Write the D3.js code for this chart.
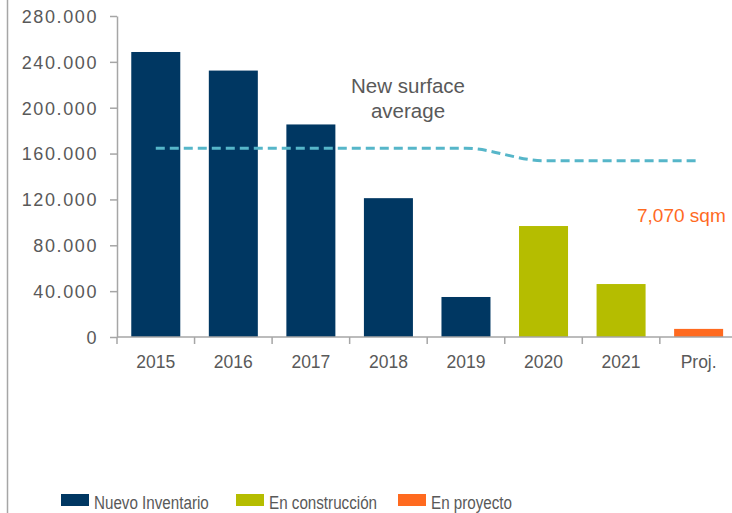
<!DOCTYPE html>
<html>
<head>
<meta charset="utf-8">
<script src="https://cdn.jsdelivr.net/npm/d3@7"></script>
<style>
  body { margin: 0; background: #fff; }
  svg { display: block; font-family: "Liberation Sans", Arial, sans-serif; }
</style>
</head>
<body>
<div id="chart"></div>
<script>
// data
var categories = ["2015", "2016", "2017", "2018", "2019", "2020", "2021", "Proj."];
var values = [248600, 232400, 185400, 121100, 34900, 96800, 46200, 7070];
var groups = ["Nuevo Inventario", "Nuevo Inventario", "Nuevo Inventario", "Nuevo Inventario",
              "Nuevo Inventario", "En construcción", "En construcción", "En proyecto"];
var average = [164600, 164600, 164600, 164600, 164600, 153800, 153800, 153800];
var yTicks = [0, 40000, 80000, 120000, 160000, 200000, 240000, 280000];
var legendItems = ["Nuevo Inventario", "En construcción", "En proyecto"];

var width = 732, height = 513;
var margin = {top: 16, left: 117, bottom: 176};
var colors = {
    "Nuevo Inventario": "#003762",
    "En construcción": "#b5bd00",
    "En proyecto": "#ff6a1f"
};
var axisGray = "#a6a6a6", textGray = "#595959";

var svg = d3.select("#chart").append("svg")
    .attr("width", width)
    .attr("height", height);

// left border line of the frame
svg.append("line")
    .attr("x1", 7.5).attr("x2", 7.5)
    .attr("y1", 0).attr("y2", height)
    .attr("stroke", axisGray).attr("stroke-width", 1.5);

var step = 77.55;
var pad = 0.368;
var x = d3.scaleBand()
    .domain(categories)
    .range([margin.left, margin.left + step * categories.length])
    .paddingInner(pad)
    .paddingOuter(pad / 2);

var y = d3.scaleLinear()
    .domain([0, 280000])
    .range([height - margin.bottom, margin.top]);

var fmt = function(d) { return d3.format(",")(d).replace(/,/g, "."); };

// y axis
var yAxis = svg.append("g")
    .attr("transform", `translate(${margin.left},0)`)
    .call(d3.axisLeft(y).tickValues(yTicks).tickFormat(fmt).tickSize(7).tickPadding(12).tickSizeOuter(0));
yAxis.selectAll("path, line").attr("stroke", axisGray).attr("stroke-width", 1.5);
yAxis.selectAll("text")
    .attr("fill", textGray)
    .style("font-size", "18px")
    .style("letter-spacing", "1.6px")
    .attr("dy", "0.35em");

// bars
svg.append("g")
    .selectAll("rect")
    .data(categories)
    .join("rect")
    .attr("x", d => x(d))
    .attr("width", x.bandwidth())
    .attr("y", (d, i) => y(values[i]))
    .attr("height", (d, i) => y(0) - y(values[i]))
    .attr("fill", (d, i) => colors[groups[i]]);

// x axis with ticks at band boundaries
var xAxis = svg.append("g")
    .attr("transform", `translate(0,${y(0)})`);
xAxis.append("line")
    .attr("x1", margin.left).attr("x2", width)
    .attr("stroke", axisGray).attr("stroke-width", 1.5);
xAxis.selectAll(".tick")
    .data(categories)
    .join("line")
    .attr("class", "tick")
    .attr("x1", d => x(d) - x.step() * pad / 2)
    .attr("x2", d => x(d) - x.step() * pad / 2)
    .attr("y1", 0).attr("y2", 7)
    .attr("stroke", axisGray).attr("stroke-width", 1.5);
xAxis.selectAll(".lbl")
    .data(categories)
    .join("text")
    .attr("class", "lbl")
    .attr("x", d => x(d) + x.bandwidth() / 2)
    .attr("y", 31)
    .attr("text-anchor", "middle")
    .attr("fill", textGray)
    .style("font-size", "17.5px")
    .text(d => d);

// average line
var line = d3.line()
    .curve(d3.curveMonotoneX)
    .x((d, i) => x(categories[i]) + x.bandwidth() / 2)
    .y(d => y(d));
svg.append("path")
    .datum(average)
    .attr("d", line)
    .attr("fill", "none")
    .attr("stroke", "#56b6c9")
    .attr("stroke-width", 3)
    .attr("stroke-dasharray", "9,5");

// annotations
var note = svg.append("text")
    .attr("text-anchor", "middle")
    .attr("fill", textGray)
    .style("font-size", "20.5px");
note.append("tspan").attr("x", 408).attr("y", 93).text("New surface");
note.append("tspan").attr("x", 408).attr("y", 118).text("average");

svg.append("text")
    .attr("x", 637)
    .attr("y", 222)
    .attr("fill", colors["En proyecto"])
    .style("font-size", "19px")
    .text("7,070 sqm");

// legend (text squeezed to the narrow face of the original)
var legendX = [61, 236, 398];
var legend = svg.append("g")
    .selectAll("g")
    .data(legendItems)
    .join("g")
    .attr("transform", (d, i) => `translate(${legendX[i]},494)`);
legend.append("rect")
    .attr("width", 28).attr("height", 12)
    .attr("fill", d => colors[d]);
legend.append("text")
    .attr("transform", "translate(33,14.5) scale(0.8,1)")
    .attr("fill", textGray)
    .style("font-size", "19px")
    .text(d => d);
</script>
</body>
</html>
